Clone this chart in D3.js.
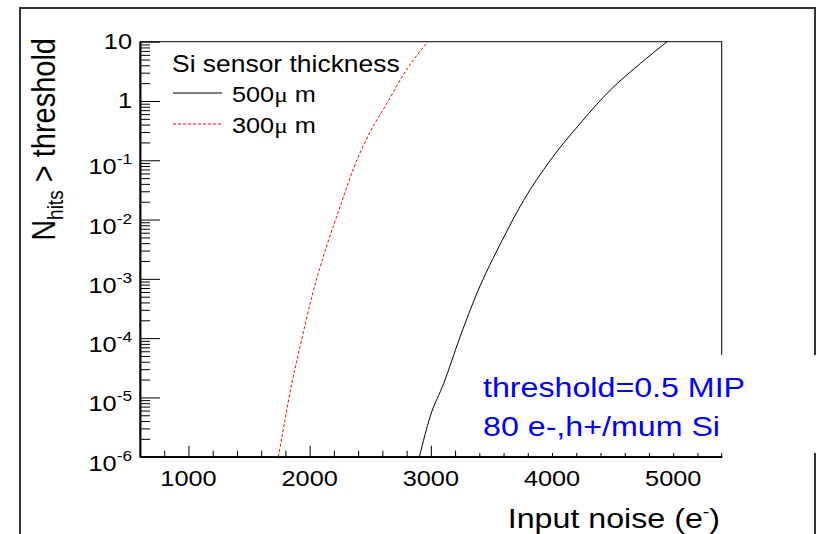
<!DOCTYPE html>
<meta charset="utf-8">
<html>
<style>
	body { margin: 0; background: #fff; }
	text { font-family: "Liberation Sans", Arial, sans-serif; fill: #000; }
</style>
<body>
<div id="plot"></div>
<script src="https://d3js.org/d3.v7.min.js"></script>
<script>
	// -----Data-----
	// 500 um sensor, black solid
	const noise_500 = [2906, 2995, 3105, 3242, 3380, 3587, 3765, 3986, 4233, 4481, 4729, 4949];
	const hits_500  = [1e-6, 4.8e-6, 1.7e-5, 1.06e-4, 5.7e-4, 4.4e-3, 0.021, 0.1, 0.42, 1.53, 4.3, 10];
	// 300 um sensor, red dashed
	const noise_300 = [1742, 1797, 1852, 1921, 2018, 2148, 2252, 2361, 2499, 2637, 2788, 2976];
	const hits_300  = [1e-6, 4.2e-6, 1.7e-5, 7.2e-5, 5e-4, 4e-3, 0.0166, 0.072, 0.30, 0.91, 3.1, 10];

	const x_ticks_major = [1000, 2000, 3000, 4000, 5000];
	const y_decades = [-6, -5, -4, -3, -2, -1, 0, 1];
	const legend_title = "Si sensor thickness";
	const legend_labels = ["500", "300"];
	const note_lines = ["threshold=0.5 MIP", "80 e-,h+/mum Si"];

	// -----Definitions-----
	const margin = {top: 41.7, left: 140},
		  width = 581.7,
		  height = 415;
	const stretch = 1.15;   // text in the picture is a bit wide

	var svg = d3.select("#plot")
				.append("svg")
					.attr("width", 818)
					.attr("height", 534);

	var g = svg.append("g")
			   .attr("transform", "translate(" + margin.left + "," + margin.top + ")");

	var x = d3.scaleLinear().domain([600, 5400]).range([0, width]);
	var y = d3.scaleLog().domain([1e-6, 10]).range([height, 0]);

	// put a stretched text at (px, py)
	function wide_text(parent, px, py, size, anchor) {
		return parent.append("text")
			.attr("transform", "translate(" + px + "," + py + ") scale(" + stretch + ",1)")
			.attr("font-size", size)
			.attr("text-anchor", anchor || "start");
	}

	// -----Outer canvas frame-----
	svg.append("path")
	   .attr("d", "M20,534V8H815V355M815,453V534")
	   .attr("fill", "none")
	   .attr("stroke", "#333")
	   .attr("stroke-width", 2);

	// -----Axes-----
	var x_minor = d3.range(800, 5400, 200).filter(v => v % 1000 != 0);
	g.append("g")
	 .attr("transform", "translate(0," + height + ")")
	 .call(d3.axisBottom(x).tickValues(x_minor).tickSize(-6).tickFormat("").tickSizeOuter(0));
	g.append("g")
	 .attr("transform", "translate(0," + height + ")")
	 .call(d3.axisBottom(x).tickValues(x_ticks_major).tickSize(-11).tickFormat("").tickSizeOuter(0));

	var y_minor = [];
	y_decades.slice(0, -1).forEach(k => d3.range(2, 10).forEach(m => y_minor.push(m * Math.pow(10, k))));
	g.append("g")
	 .call(d3.axisLeft(y).tickValues(y_minor).tickSize(-10).tickFormat("").tickSizeOuter(0));
	g.append("g")
	 .call(d3.axisLeft(y).tickValues(y_decades.map(k => Math.pow(10, k))).tickSize(-20).tickFormat("").tickSizeOuter(0));

	g.selectAll(".domain").attr("stroke-width", 1.5);
	g.selectAll(".tick line").attr("stroke", "#000");

	// frame box
	g.append("rect")
	 .attr("width", width)
	 .attr("height", height)
	 .attr("fill", "none")
	 .attr("stroke", "#000")
	 .attr("stroke-width", 1);

	// tick labels
	x_ticks_major.forEach(v => {
		wide_text(g, x(v), height + 29, 22, "middle").text(v);
	});
	y_decades.forEach(k => {
		var yy = y(Math.pow(10, k));
		if (k < 0) {
			var t = wide_text(g, -8, yy + 14, 22, "end");
			t.append("tspan").text("10");
			t.append("tspan").attr("font-size", 15).attr("dy", -10).text(k);
		} else {
			wide_text(g, -8, yy + 7, 22, "end").text(k == 0 ? "1" : "10");
		}
	});

	// axis titles
	var xt = wide_text(svg, 720, 528, 28, "end");
	xt.append("tspan").text("Input noise (e");
	xt.append("tspan").attr("font-size", 17).attr("dy", -11).text("-");
	xt.append("tspan").attr("dy", 11).text(")");

	var yt = svg.append("text")
				.attr("transform", "translate(55,38) scale(" + stretch + ",1) rotate(-90)")
				.attr("font-size", 29)
				.attr("text-anchor", "end");
	yt.append("tspan").text("N");
	yt.append("tspan").attr("font-size", 19).attr("dy", 7).text("hits");
	yt.append("tspan").attr("dy", -7).text(" > threshold");

	// -----Curves-----
	var line = d3.line().x(d => x(d[0])).y(d => y(d[1])).curve(d3.curveMonotoneX);

	g.append("path")
	 .datum(d3.zip(noise_500, hits_500))
	 .attr("d", line)
	 .attr("fill", "none")
	 .attr("stroke", "#000")
	 .attr("stroke-width", 1);

	g.append("path")
	 .datum(d3.zip(noise_300, hits_300))
	 .attr("d", line)
	 .attr("fill", "none")
	 .attr("stroke", "#ff0000")
	 .attr("stroke-width", 1)
	 .attr("stroke-dasharray", "3,2");

	// -----Legend-----
	wide_text(svg, 172, 72, 23).text(legend_title);
	var leg_style = [{stroke: "#000", dash: null}, {stroke: "#ff0000", dash: "3,2"}];
	legend_labels.forEach((lab, i) => {
		var yy = 93 + i * 31;
		svg.append("line")
		   .attr("x1", 173).attr("x2", 222)
		   .attr("y1", yy).attr("y2", yy)
		   .attr("stroke", leg_style[i].stroke)
		   .attr("stroke-dasharray", leg_style[i].dash);
		var t = wide_text(svg, 232, yy + 9, 22);
		t.append("tspan").text(lab);
		t.append("tspan").attr("font-family", "'Liberation Serif', serif").text("\u03bc");
		t.append("tspan").text(" m");
	});

	// -----Note box (white, covers the frame lines)-----
	svg.append("rect")
	   .attr("x", 472).attr("y", 355)
	   .attr("width", 346).attr("height", 98)
	   .attr("fill", "#fff");
	note_lines.forEach((s, i) => {
		wide_text(svg, 483, 397 + i * 39, 28).style("fill", "#0000ff").text(s);
	});
</script>
</body>
</html>
